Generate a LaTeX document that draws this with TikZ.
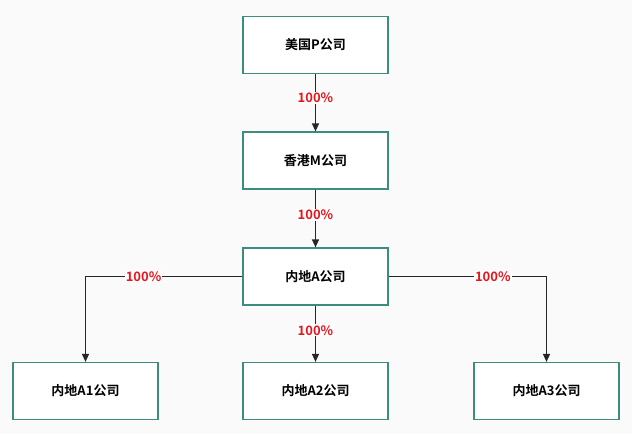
\documentclass[tikz,border=0pt]{standalone}
\usepackage{fontspec}
\setmainfont{Noto Sans CJK SC}[BoldFont={Noto Sans CJK SC Bold}]
\usetikzlibrary{arrows.meta}
\definecolor{bd}{HTML}{3E8C7E}
\definecolor{lab}{HTML}{E8141B}
\begin{document}
\begin{tikzpicture}[x=1pt,y=-1pt,
  box/.style={draw=bd,line width=1.2pt,fill=white,minimum width=145pt,minimum height=57pt,font=\bfseries\fontsize{13}{15}\selectfont},
  pct/.style={fill=white,inner sep=1pt,text=lab,font=\bfseries\fontsize{13}{15}\selectfont},
  arr/.style={draw=black!85,line width=1.3pt,-{Triangle[length=8pt,width=7pt]}}]
\fill[white!98!black] (0,0) rectangle (632,434);
\useasboundingbox (0,0) rectangle (632,434);
\node[box] (p) at (315.5,45) {美国P公司};
\node[box] (m) at (315.5,160.5) {香港M公司};
\node[box] (a) at (315.5,276.5) {内地A公司};
\node[box] (a1) at (85.5,391) {内地A1公司};
\node[box] (a2) at (315.5,391) {内地A2公司};
\node[box] (a3) at (546.5,391) {内地A3公司};
\draw[arr] (p) -- node[pct,pos=0.42]{100\%} (m);
\draw[arr] (m) -- node[pct,pos=0.44]{100\%} (a);
\draw[arr] (a) -- node[pct,pos=0.44]{100\%} (a2);
\draw[arr] (a.west) -| node[pct,pos=0.315]{100\%} (a1);
\draw[arr] (a.east) -| node[pct,pos=0.33]{100\%} (a3);
\end{tikzpicture}
\end{document}
